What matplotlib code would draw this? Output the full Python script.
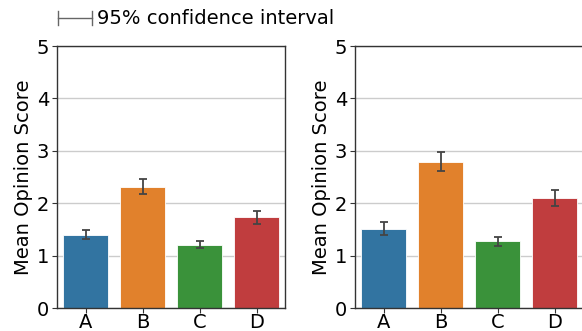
import matplotlib
matplotlib.use("Agg")
import matplotlib.pyplot as plt
import numpy as np
from matplotlib.legend_handler import HandlerBase
from matplotlib.lines import Line2D

categories = ["A", "B", "C", "D"]
left_means = [1.40, 2.31, 1.21, 1.73]
left_lower = [1.32, 2.17, 1.14, 1.60]
left_upper = [1.49, 2.47, 1.28, 1.86]
right_means = [1.50, 2.79, 1.27, 2.09]
right_lower = [1.40, 2.61, 1.18, 1.95]
right_upper = [1.64, 2.98, 1.36, 2.25]
colors = ["#3274a1", "#e1812c", "#3a923a", "#c03d3e"]
yticks = [0, 1, 2, 3, 4, 5]
legend_label = "95% confidence interval"

plt.rcParams['font.family'] = ['DejaVu Sans']

fig = plt.figure(figsize=(5.82, 3.31), dpi=100)
W, H = 582, 331
axes = [fig.add_axes([57 / W, 1 - 308 / H, 228 / W, 262 / H]),
        fig.add_axes([355 / W, 1 - 308 / H, 228 / W, 262 / H])]

x = np.arange(len(categories))
for ax, m, lo, up in [(axes[0], left_means, left_lower, left_upper),
                      (axes[1], right_means, right_lower, right_upper)]:
    ax.set_axisbelow(True)
    ax.yaxis.grid(True, color="#cccccc", linewidth=1)
    ax.bar(x, m, width=0.8, color=colors, edgecolor="white", linewidth=0.6)
    m_arr = np.array(m)
    yerr = [m_arr - np.array(lo), np.array(up) - m_arr]
    ax.errorbar(x, m, yerr=yerr, fmt="none", ecolor="#444444",
                elinewidth=1.3, capsize=3, capthick=1.3)
    ax.set_ylim(0, 5)
    ax.set_xlim(-0.5, 3.5)
    ax.set_yticks(yticks)
    ax.set_xticks(x)
    ax.set_xticklabels(categories)
    ax.tick_params(labelsize=14, length=3.5, color="#333333", width=0.8)
    ax.tick_params(axis="x", pad=0)
    ax.tick_params(axis="y", pad=2)
    ax.set_ylabel("Mean Opinion Score", fontsize=14, labelpad=3)
    for s in ax.spines.values():
        s.set_color("#333333")
        s.set_linewidth(1.0)


class CIHandler(HandlerBase):
    def create_artists(self, legend, orig_handle, xdescent, ydescent,
                       width, height, fontsize, trans):
        y = height / 2 - ydescent
        x0, x1 = -xdescent, -xdescent + width
        h = height * 0.5
        arts = [Line2D([x0, x1], [y, y], color="#666666", lw=1, transform=trans),
                Line2D([x0, x0], [y - h, y + h], color="#666666", lw=1, transform=trans),
                Line2D([x1, x1], [y - h, y + h], color="#666666", lw=1, transform=trans)]
        return arts


handle = Line2D([], [])
fig.legend([handle], [legend_label], handler_map={Line2D: CIHandler()},
           loc="upper left", bbox_to_anchor=(40 / W, 1 + 8 / H), frameon=False,
           fontsize=14, handlelength=1.75, handletextpad=0.3)

fig.savefig("out.png", dpi=100)
